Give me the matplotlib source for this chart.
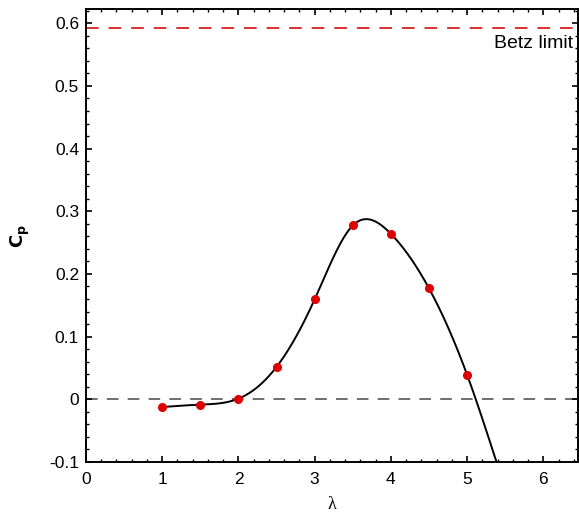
import numpy as np
import matplotlib
matplotlib.use("Agg")
import matplotlib.pyplot as plt
from matplotlib.ticker import MultipleLocator

plt.rcParams["font.family"] = ["Liberation Sans", "DejaVu Sans"]

# measured power coefficient vs tip speed ratio
tsr = [1.0, 1.5, 2.0, 2.5, 3.0, 3.5, 4.0, 4.5, 5.0]
cp = [-0.0123, -0.0085, 0.001, 0.0517, 0.1595, 0.2773, 0.264, 0.177, 0.039]
betz = 16 / 27

# fitted curve, values (runs past the last point)
fit_tsr = [1.0, 1.5, 2.0, 2.5, 3.0, 3.5, 4.0, 4.5, 5.0, 5.38]
fit_cp = [-0.0123, -0.0085, 0.001, 0.0517, 0.1595, 0.2773, 0.264, 0.177,
          0.039, -0.098]


def smooth(x, y, num=400):
    # natural cubic spline, only to draw the fit line smoothly
    x = np.asarray(x, float)
    y = np.asarray(y, float)
    n = len(x)
    h = np.diff(x)
    A = np.zeros((n, n))
    b = np.zeros(n)
    A[0, 0] = A[-1, -1] = 1
    for i in range(1, n - 1):
        A[i, i - 1] = h[i - 1]
        A[i, i] = 2 * (h[i - 1] + h[i])
        A[i, i + 1] = h[i]
        b[i] = 6 * ((y[i + 1] - y[i]) / h[i] - (y[i] - y[i - 1]) / h[i - 1])
    M = np.linalg.solve(A, b)
    xs = np.linspace(x[0], x[-1], num)
    k = np.clip(np.searchsorted(x, xs) - 1, 0, n - 2)
    t0 = x[k + 1] - xs
    t1 = xs - x[k]
    hk = h[k]
    ys = (M[k] * t0**3 + M[k + 1] * t1**3) / (6 * hk) \
        + (y[k] / hk - M[k] * hk / 6) * t0 + (y[k + 1] / hk - M[k + 1] * hk / 6) * t1
    return xs, ys


xf, yf = smooth(fit_tsr, fit_cp)

fig = plt.figure(figsize=(5.79, 5.16), dpi=100)
ax = fig.add_axes([0.1485, 0.1047, 0.8505, 0.877])

ax.axhline(0, color="#555555", ls=(0, (7, 5.5)), lw=1.2, zorder=1)
ax.axhline(betz, color="#d62020", ls=(0, (7, 5.5)), lw=1.3, zorder=1)
ax.plot(xf, yf, color="black", lw=1.4, zorder=2)
ax.plot(tsr, cp, "o", color="#dd0000", ms=5.5, zorder=3)

ax.text(6.39, 0.568, "Betz limit", ha="right", va="center", fontsize=14)

ax.set_xlim(0, 6.46)
ax.set_ylim(-0.1, 0.622)
ax.xaxis.set_major_locator(MultipleLocator(1))
ax.xaxis.set_minor_locator(MultipleLocator(0.2))
ax.yaxis.set_minor_locator(MultipleLocator(0.02))
ax.set_yticks([-0.1, 0, 0.1, 0.2, 0.3, 0.4, 0.5, 0.6])
ax.set_yticklabels(["-0.1", "0", "0.1", "0.2", "0.3", "0.4", "0.5", "0.6"])

ax.tick_params(which="both", direction="in", top=True, right=True, labelsize=12.5)
ax.tick_params(axis="x", which="major", pad=7)
ax.tick_params(axis="y", which="major", pad=5)
ax.tick_params(which="major", length=4.5, width=1.2)
ax.tick_params(which="minor", length=2.5, width=1.0)
for s in ax.spines.values():
    s.set_linewidth(1.4)

ax.set_xlabel("λ", fontsize=13, family=["Liberation Serif", "DejaVu Serif"])
ax.xaxis.set_label_coords(0.5, -0.075)
ax.xaxis.label.set_va("top")
ax.set_ylabel(r"$\mathbf{C_p}$", fontsize=13)
ax.yaxis.set_label_coords(-0.11, 0.5)

fig.savefig("out.png", dpi=100)
